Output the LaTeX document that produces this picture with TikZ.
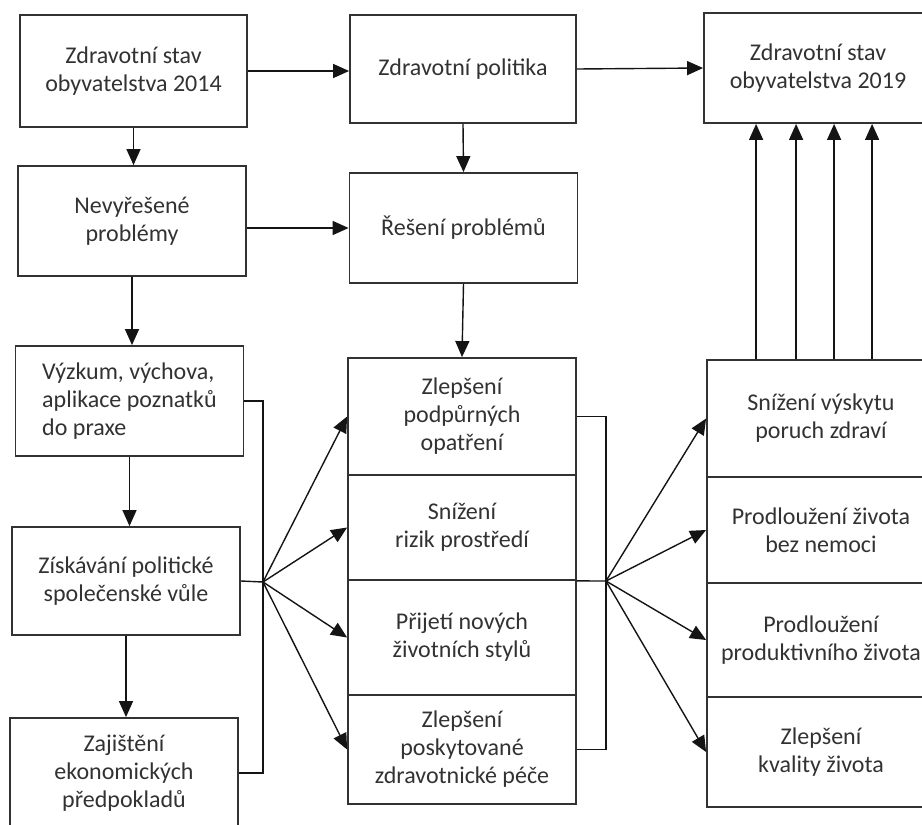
\documentclass[tikz,border=0pt]{standalone}
\usepackage{fontspec}
\setmainfont{Carlito}
\usepackage{xcolor}
\usepackage{tikz}
\usetikzlibrary{arrows.meta, positioning}
\definecolor{BoxLine}{RGB}{50,50,50}
\definecolor{TextGray}{RGB}{50,50,50}
\definecolor{LineBlack}{RGB}{20,20,20}

\begin{document}
\begin{tikzpicture}[
  x=0.5pt, y=-0.5pt,
  font=\fontsize{12}{14}\selectfont,
  box/.style={rectangle, draw=BoxLine, line width=0.9pt, text=TextGray,
              minimum width=114pt, minimum height=55pt, align=center,
              inner sep=1pt},
  arrow/.style={-{Triangle[length=8pt, width=7pt]}, line width=0.7pt, LineBlack},
  link/.style={line width=0.7pt, LineBlack},
]
\useasboundingbox (0,0) rectangle (922,825);
\clip (0,0) rectangle (922,825);

% Top row
\node[box, minimum width=113.5pt, minimum height=56pt] (a1) at (133.5, 71) {Zdravotní stav\\obyvatelstva 2014};
\node[box, minimum width=113pt, minimum height=54pt] (b1) at (463, 69) {Zdravotní politika};
\node[box, minimum height=55pt] (c1) at (818, 68) {Zdravotní stav\\obyvatelstva 2019};

% Left column
\node[box] (a2) at (132, 221) {Nevyřešené\\problémy};
\node[box, align=left] (a3) at (129.5, 401) {Výzkum, výchova,\\aplikace poznatků\\do praxe};
\node[box, minimum height=54pt] (a4) at (126, 581) {Získávání politické\\společenské vůle};
\node[box] (a5) at (124, 773) {Zajištění\\ekonomických\\předpokladů};

% Middle column
\node[box] (b2) at (463.5, 228) {Řešení problémů};
\node[box, minimum height=58.5pt] (m1) at (462, 416.5) {Zlepšení\\podpůrných\\opatření};
\node[box, minimum height=52.5pt] (m2) at (462, 527.5) {Snížení\\rizik prostředí};
\node[box, minimum height=57.5pt] (m3) at (462, 637.5) {Přijetí nových\\životních stylů};
\node[box, minimum height=54.5pt] (m4) at (462, 749.5) {Zlepšení\\poskytované\\zdravotnické péče};

% Right column
\node[box, minimum height=58.5pt] (r1) at (821, 418.5) {Snížení výskytu\\poruch zdraví};
\node[box, minimum height=53pt] (r2) at (821, 530) {Prodloužení života\\bez nemoci};
\node[box, minimum height=57pt] (r3) at (821, 640) {Prodloužení\\produktivního života};
\node[box, minimum height=55pt] (r4) at (821, 752) {Zlepšení\\kvality života};

% Fan points
\coordinate (fanL) at (263, 582);
\coordinate (fanR) at (606, 581);

% Arrows
\draw[arrow] (a1.east) -- (a1.east -| b1.west);
\draw[arrow] (b1.east) -- (c1.west);
\draw[arrow] (a1.south) -- (a1.south |- a2.north);
\draw[arrow] (b1.south) -- (b2.north);
\draw[arrow] (a2.east |- b2.west) -- (b2.west);
\draw[arrow] (a2.south) -- (a2.south |- a3.north);
\draw[arrow] (b2.south) -- (m1.north);
\draw[arrow] (a3.south) -- (a3.south |- a4.north);
\draw[arrow] (a4.south) -- (a4.south |- a5.north);

% Left bracket
\draw[link] (a3.east) -- (a3.east -| fanL) -- (a5.east -| fanL) -- (a5.east);
\draw[link] (a4.east) -- (fanL);
\foreach \t in {m1, m2, m3, m4}
  \draw[arrow] (fanL) -- (\t.west);

% Right bracket
\draw[link] (m1.east) -- (m1.east -| fanR) -- (m4.east -| fanR) -- (m4.east);
\draw[link] (m2.south east) -- (fanR);
\foreach \t in {r1, r2, r3, r4}
  \draw[arrow] (fanR) -- (\t.west);

% Up to 2019
\foreach \d in {25, 45, 64, 83}
  \draw[arrow] ([xshift=\d pt]r1.north west) -- ([xshift=\d pt]r1.north west |- c1.south);

\end{tikzpicture}
\end{document}
